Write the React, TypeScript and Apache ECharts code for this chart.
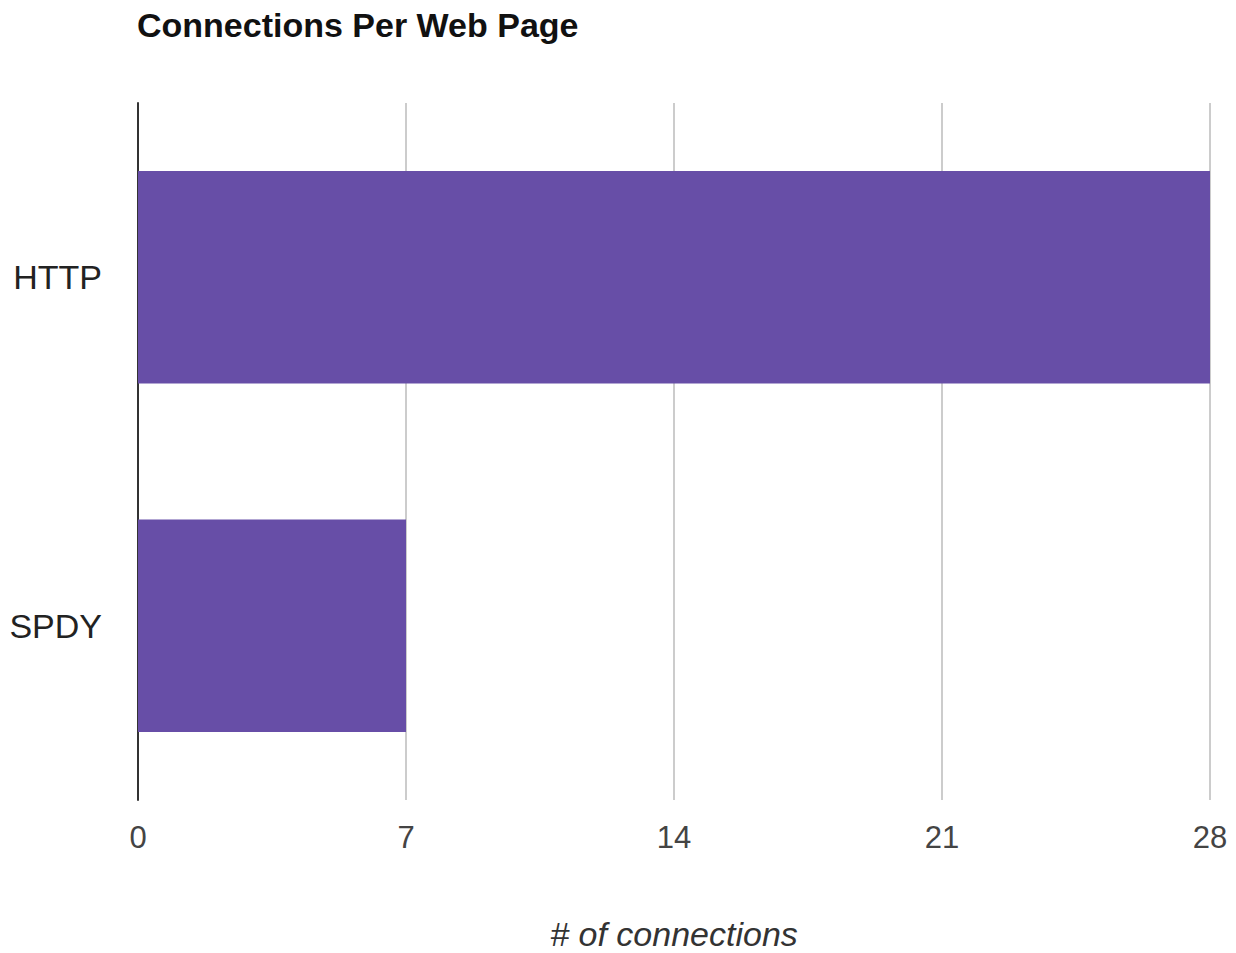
import React, { useEffect, useRef } from "react";
import * as echarts from "echarts";

const categories = ["HTTP", "SPDY"];
const connections = [28, 7];
const titleText = "Connections Per Web Page";
const xAxisName = "# of connections";

export default function App() {
  const ref = useRef<HTMLDivElement>(null);
  useEffect(() => {
    if (!ref.current) return;
    const chart = echarts.init(ref.current, null, { renderer: "svg" });
    chart.setOption({
      animation: false,
      backgroundColor: "#ffffff",
      title: {
        text: titleText,
        left: 137,
        top: 8,
        padding: 0,
        textStyle: {
          fontFamily: "Liberation Sans, Arial, sans-serif",
          fontWeight: "bold",
          fontSize: 34,
          color: "#111111",
        },
      },
      grid: {
        left: 138,
        right: 26,
        top: 103,
        bottom: 153,
        outerBoundsMode: "none",
        containLabel: false,
      },
      xAxis: {
        type: "value",
        min: 0,
        max: 28,
        interval: 7,
        name: xAxisName,
        nameLocation: "middle",
        nameGap: 117,
        nameTextStyle: {
          fontFamily: "Liberation Sans, Arial, sans-serif",
          fontStyle: "italic",
          fontSize: 34,
          color: "#333333",
        },
        axisLine: { show: false },
        axisTick: { show: false },
        axisLabel: {
          margin: 22,
          fontFamily: "Liberation Sans, Arial, sans-serif",
          fontSize: 31,
          color: "#444444",
        },
        splitLine: { show: true, lineStyle: { color: "#cccccc", width: 2 } },
      },
      yAxis: {
        type: "category",
        data: categories,
        inverse: true,
        axisLine: { show: true, lineStyle: { color: "#333333", width: 2 } },
        axisTick: { show: false },
        axisLabel: {
          margin: 36,
          fontFamily: "Liberation Sans, Arial, sans-serif",
          fontSize: 34,
          color: "#222222",
        },
      },
      series: [
        {
          type: "bar",
          data: connections,
          barWidth: "61%",
          itemStyle: { color: "#674ea7" },
        },
      ],
    });
    return () => chart.dispose();
  }, []);
  return (
    <div
      ref={ref}
      style={{ position: "absolute", left: 0, top: 0, width: 1236, height: 953 }}
    />
  );
}
